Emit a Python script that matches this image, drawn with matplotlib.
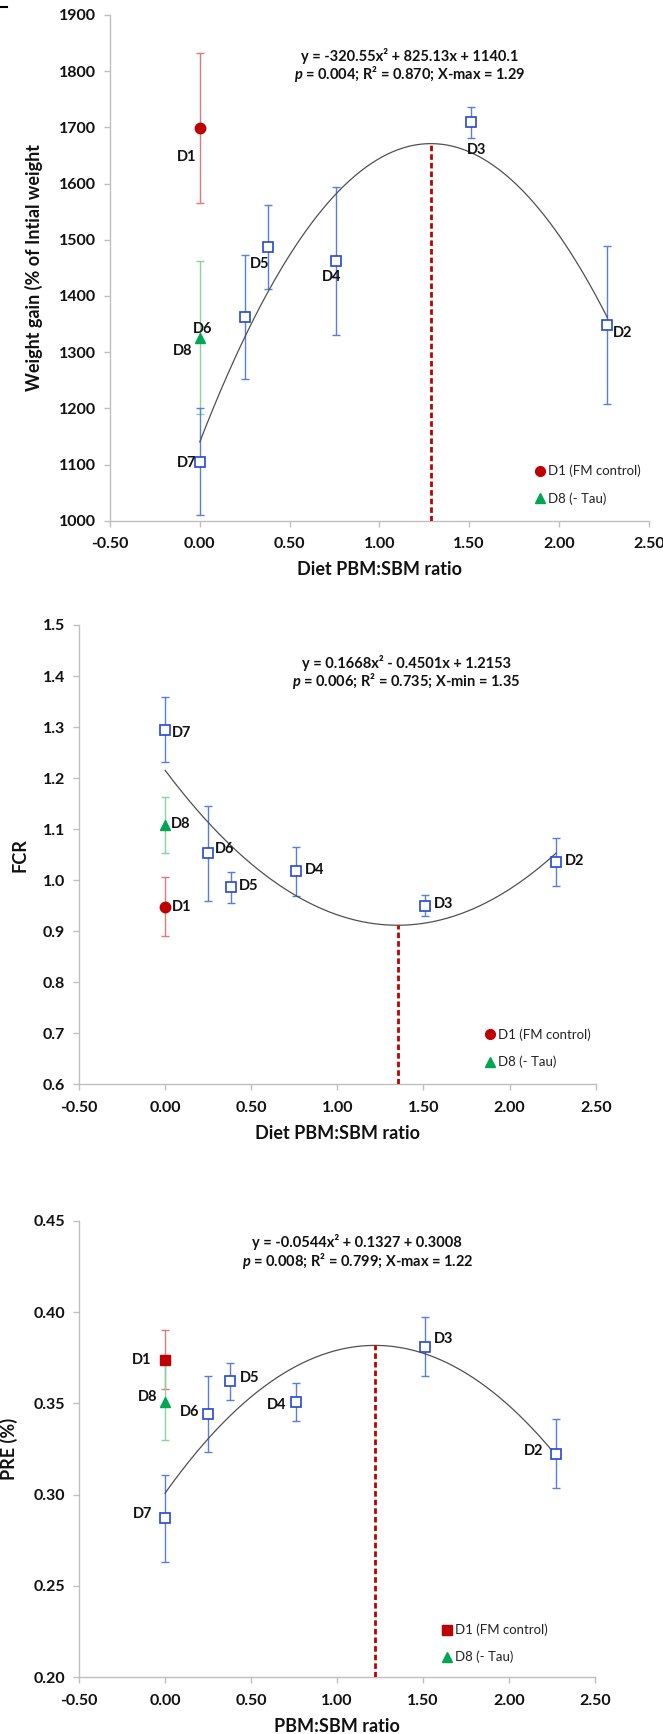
import numpy as np
import matplotlib
matplotlib.use("Agg")
import matplotlib.pyplot as plt
from matplotlib.lines import Line2D

plt.rcParams['font.family'] = ['Lato', 'DejaVu Sans']
plt.rcParams['mathtext.fontset'] = 'custom'
plt.rcParams['mathtext.it'] = 'Lato:italic:bold'
plt.rcParams['mathtext.rm'] = 'Lato:bold'
plt.rcParams['mathtext.bf'] = 'Lato:bold'

# ---------------- data ----------------
diets = ['D7', 'D6', 'D5', 'D4', 'D3', 'D2']
ratio = [0.0, 0.25, 0.38, 0.76, 1.51, 2.27]

wg_mean = [1105, 1363, 1487, 1462, 1709, 1348]
wg_err = [95, 110, 74, 131, 28, 140]
wg_d1 = [1699, 133]
wg_d8 = [1326, 136]
wg_coef = [-320.55, 825.13, 1140.1]
wg_xopt = 1.29
wg_eq = ["y = -320.55x² + 825.13x + 1140.1",
         "$p$ = 0.004; R² = 0.870; X-max = 1.29"]

fcr_mean = [1.295, 1.053, 0.986, 1.017, 0.950, 1.036]
fcr_err = [0.064, 0.093, 0.030, 0.048, 0.020, 0.047]
fcr_d1 = [0.948, 0.058]
fcr_d8 = [1.108, 0.054]
fcr_coef = [0.1668, -0.4501, 1.2153]
fcr_xopt = 1.35
fcr_eq = ["y = 0.1668x² - 0.4501x + 1.2153",
          "$p$ = 0.006; R² = 0.735; X-min = 1.35"]

pre_mean = [0.287, 0.344, 0.362, 0.351, 0.381, 0.3225]
pre_err = [0.0237, 0.0207, 0.010, 0.0104, 0.016, 0.019]
pre_d1 = [0.374, 0.016]
pre_d8 = [0.351, 0.021]
pre_coef = [-0.0544, 0.1327, 0.3008]
pre_xopt = 1.22
pre_eq = ["y = -0.0544x² + 0.1327 + 0.3008",
          "$p$ = 0.008; R² = 0.799; X-max = 1.22"]

legend_labels = ["D1 (FM control)", "D8 (- Tau)"]
x_ticks = [-0.5, 0.0, 0.5, 1.0, 1.5, 2.0, 2.5]

# ---------------- style ----------------
BLUE_M = '#2448d0'
BLUE_E = '#5a7ee0'
RED_M = '#c00000'
RED_E = '#e07878'
GRN_M = '#00a651'
GRN_E = '#85d4a4'
AX_C = '#bfbfbf'
CURVE_C = '#505050'

W, H = 663, 1734
fig = plt.figure(figsize=(W / 100, H / 100), dpi=100)


def px_axes(left, top, right, bottom):
    return fig.add_axes([left / W, 1 - bottom / H, (right - left) / W, (bottom - top) / H])


def style_axes(ax, ylim, yticks, yfmt, ylabel, ylabel_x, xlabel):
    ax.set_xlim(-0.5, 2.5)
    ax.set_ylim(*ylim)
    ax.set_xticks(x_ticks)
    ax.set_xticklabels([f"{t:.2f}" for t in x_ticks])
    ax.set_yticks(yticks)
    ax.set_yticklabels([yfmt.format(t) for t in yticks])
    for s in ['top', 'right']:
        ax.spines[s].set_visible(False)
    for s in ['left', 'bottom']:
        ax.spines[s].set_color(AX_C)
        ax.spines[s].set_linewidth(1.0)
    ax.tick_params(axis='both', direction='out', length=4, width=1, color=AX_C,
                   labelsize=11.5, labelcolor='#111111')
    ax.tick_params(axis='y', pad=6)
    ax.tick_params(axis='x', pad=8)
    for lab in ax.get_xticklabels() + ax.get_yticklabels():
        lab.set_fontweight('bold')
    ax.set_ylabel(ylabel, fontsize=13, fontweight='bold', color='#111111')
    ax.yaxis.set_label_coords(ylabel_x, 0.5)
    ax.set_xlabel(xlabel, fontsize=13, fontweight='bold', color='#111111', labelpad=7)
    ax.set_facecolor('white')


def draw_panel(ax, mean, err, d1, d8, coef, xopt, ylim, eq, eq_pos, d1_marker,
               label_offsets, leg_pos):
    # controls at x = 0
    ax.errorbar([0.0], [d1[0]], yerr=[d1[1]], fmt='none', ecolor=RED_E,
                elinewidth=1.0, capsize=3, capthick=1.0, zorder=2)
    ax.errorbar([0.0], [d8[0]], yerr=[d8[1]], fmt='none', ecolor=GRN_E,
                elinewidth=1.0, capsize=3, capthick=1.0, zorder=2.1)
    ax.errorbar(ratio, mean, yerr=err, fmt='none', ecolor=BLUE_E,
                elinewidth=1.0, capsize=3, capthick=1.0, zorder=2.2)
    # quadratic fit
    xs = np.linspace(0, max(ratio), 300)
    ys = np.polyval(coef, xs)
    ax.plot(xs, ys, color=CURVE_C, lw=0.9, zorder=3)
    yopt = np.polyval(coef, xopt)
    ax.plot([xopt, xopt], [ylim[0], yopt], color=RED_M, lw=2.0,
            linestyle=(0, (2.0, 1.1)), zorder=3)
    # markers
    ax.plot(ratio, mean, linestyle='none', marker='s', markersize=7.5,
            markerfacecolor='white', markeredgecolor=BLUE_M, markeredgewidth=1.2, zorder=4)
    ax.plot([0.0], [d1[0]], linestyle='none', marker=d1_marker, markersize=7.5,
            color=RED_M, zorder=4)
    ax.plot([0.0], [d8[0]], linestyle='none', marker='^', markersize=7.5,
            color=GRN_M, zorder=4)
    # point labels
    pts = dict(zip(diets, zip(ratio, mean)))
    pts['D1'] = (0.0, d1[0])
    pts['D8'] = (0.0, d8[0])
    for name, (dx, dy) in label_offsets.items():
        ax.annotate(name, xy=pts[name], xytext=(dx, dy), textcoords='offset pixels',
                    ha='center', va='center', fontsize=10.5, fontweight='bold',
                    color='#111111', zorder=5)
    # equation
    ax.text(eq_pos[0], eq_pos[1], eq[0], transform=ax.transAxes, ha='center',
            va='center', fontsize=10.5, fontweight='bold', color='#111111')
    ax.text(eq_pos[0], eq_pos[2], eq[1], transform=ax.transAxes, ha='center',
            va='center', fontsize=10.5, fontweight='bold', color='#111111')
    # legend
    lx, ly1, ly2, tx = leg_pos
    ax.plot([lx], [ly1], marker=d1_marker, color=RED_M, markersize=7,
            transform=ax.transAxes, clip_on=False, linestyle='none')
    ax.plot([lx], [ly2], marker='^', color=GRN_M, markersize=7,
            transform=ax.transAxes, clip_on=False, linestyle='none')
    ax.text(tx, ly1, legend_labels[0], transform=ax.transAxes, ha='left', va='center',
            fontsize=9.5, color='#222222')
    ax.text(tx, ly2, legend_labels[1], transform=ax.transAxes, ha='left', va='center',
            fontsize=9.5, color='#222222')


# ---------------- panel 1: weight gain ----------------
ax1 = px_axes(110, 15, 648.7, 520.7)
style_axes(ax1, (1000, 1900), list(range(1000, 1901, 100)), "{:.0f}",
           "Weight gain (% of Intial weight", -0.124, "Diet PBM:SBM ratio")
draw_panel(ax1, wg_mean, wg_err, wg_d1, wg_d8, wg_coef, wg_xopt, (1000, 1900),
           wg_eq, (0.557, 0.919, 0.883), 'o',
           {'D1': (-13, -29), 'D3': (6, -28), 'D5': (-8, -17), 'D4': (-5, -16),
            'D6': (-42, -12), 'D8': (-17, -13), 'D7': (-13, -1), 'D2': (15, -8)},
           (0.798, 0.098, 0.044, 0.813))

# ---------------- panel 2: FCR ----------------
ax2 = px_axes(79, 625, 595.7, 1084.3)
style_axes(ax2, (0.6, 1.5), list(np.round(np.arange(0.6, 1.51, 0.1), 1)), "{:.1f}",
           "FCR", -0.097, "Diet PBM:SBM ratio")
draw_panel(ax2, fcr_mean, fcr_err, fcr_d1, fcr_d8, fcr_coef, fcr_xopt, (0.6, 1.5),
           fcr_eq, (0.633, 0.918, 0.877), 'o',
           {'D7': (16, -3), 'D8': (16, 1), 'D6': (16, 4), 'D5': (18, 1), 'D4': (19, 1),
            'D1': (17, 0), 'D3': (18, 2), 'D2': (18, 1)},
           (0.796, 0.109, 0.049, 0.811))

# ---------------- panel 3: PRE ----------------
ax3 = px_axes(79, 1220.7, 595.3, 1677.3)
style_axes(ax3, (0.2, 0.45), list(np.round(np.arange(0.20, 0.451, 0.05), 2)), "{:.2f}",
           "PRE (%)", -0.118, "PBM:SBM ratio")
draw_panel(ax3, pre_mean, pre_err, pre_d1, pre_d8, pre_coef, pre_xopt, (0.2, 0.45),
           pre_eq, (0.539, 0.954, 0.912), 's',
           {'D1': (-23, 0), 'D8': (-17, 5), 'D6': (-18, 2), 'D5': (19, 3), 'D4': (-19, -3),
            'D3': (19, 8), 'D2': (-22, 3), 'D7': (-22, 4)},
           (0.713, 0.104, 0.044, 0.728))

# small stray mark in the top-left corner of the original
fig.add_artist(Line2D([0, 7 / W], [1 - 7 / H, 1 - 7 / H], color='black', lw=1.5))

fig.savefig('out.png', dpi=100, facecolor='white')
